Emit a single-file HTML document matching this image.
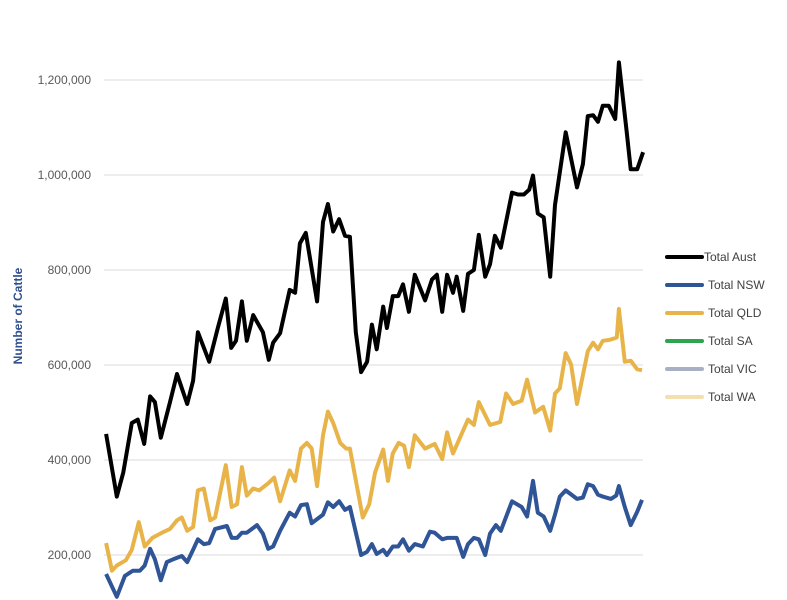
<!DOCTYPE html>
<html><head><meta charset="utf-8"><style>
html,body{margin:0;padding:0;background:#fff;}
svg{display:block;font-family:"Liberation Sans",sans-serif;}
</style></head><body>
<svg id="chart" width="787" height="600" viewBox="0 0 787 600">
<g id="grid"></g>
<g id="ylabels"></g>
<text transform="translate(22,316) rotate(-90)" text-anchor="middle" font-size="12" font-weight="bold" fill="#2f4f8f">Number of Cattle</text>
<g id="series"></g>
<g id="legend"></g>
</svg>
<script>
const yTicks = [200, 400, 600, 800, 1000, 1200];
const yTickLabels = ["200,000","400,000","600,000","800,000","1,000,000","1,200,000"];
const ausT = [0.2,2.2,3.4,5.0,6.1,7.3,8.4,9.3,10.4,12.1,13.4,15.3,16.4,17.3,19.4,21.0,22.5,23.5,24.4,25.5,26.4,27.6,29.4,30.5,31.3,32.6,34.4,35.4,36.3,37.4,39.5,40.6,41.5,42.5,43.6,44.7,45.6,46.7,47.7,48.8,49.7,50.6,51.8,52.5,53.6,54.6,55.5,56.6,57.7,59.6,60.9,61.8,62.8,63.7,64.8,65.5,66.7,67.6,68.7,69.6,70.8,71.7,72.6,73.7,75.8,76.9,78.0,79.0,79.7,80.6,81.7,82.9,83.8,85.8,87.9,89.0,89.9,90.9,91.8,92.7,93.8,95.0,95.7,97.2,97.9,99.1,100.2];
const ausV = [455,323,374,478,485,434,534,522,447,522,581,518,567,669,607,678,740,636,651,734,651,705,669,611,647,667,758,752,856,878,734,901,939,881,907,872,870,669,585,607,685,633,723,678,745,745,770,712,790,736,780,790,712,790,752,786,714,792,800,874,786,812,872,847,963,959,959,969,999,919,911,786,937,1090,974,1023,1124,1126,1112,1146,1146,1118,1237,1085,1012,1012,1048];
const qldT = [0.2,1.3,2.2,3.9,5.0,6.3,7.4,8.8,10.6,12.1,13.4,14.3,15.3,16.4,17.3,18.4,19.6,20.5,22.5,23.6,24.6,25.5,26.4,27.6,28.7,30.4,31.5,32.6,34.4,35.4,36.5,37.6,38.5,39.5,40.6,41.5,42.5,43.8,44.9,45.6,46.9,48.0,49.2,50.3,51.8,52.7,53.6,54.7,55.7,56.6,57.7,59.6,61.4,62.8,63.7,64.8,67.6,68.7,69.6,71.7,73.6,74.7,76.0,77.6,78.6,80.1,81.6,82.9,83.8,84.7,85.8,86.8,87.9,89.9,90.9,91.8,92.7,94.0,95.3,95.7,96.8,97.9,99.1,100.0];
const qldV = [225,167,178,189,211,269,218,236,247,255,273,279,251,259,336,340,273,279,389,301,307,385,325,340,336,351,363,313,378,356,424,436,424,345,452,502,478,436,424,424,345,279,307,374,422,356,414,436,430,385,452,424,434,402,458,414,485,474,522,474,480,540,518,525,569,500,512,462,540,551,625,601,518,629,647,633,651,653,658,718,607,609,591,589];
const nswT = [0.2,2.2,3.7,5.2,6.5,7.4,8.4,9.3,10.4,11.5,12.7,14.3,15.3,16.4,17.3,18.4,19.4,20.5,22.7,23.6,24.6,25.5,26.4,28.3,29.4,30.4,31.3,32.6,34.4,35.4,36.5,37.6,38.5,40.6,41.5,42.5,43.6,44.7,45.6,47.7,48.8,49.7,50.6,51.8,52.5,53.6,54.6,55.5,56.6,57.7,59.2,60.5,61.4,62.8,63.7,65.5,66.7,67.6,68.7,69.6,70.8,71.7,72.8,73.7,75.8,77.6,78.6,79.7,80.6,81.7,82.9,83.8,84.7,85.8,87.9,89.0,89.9,90.9,91.8,92.7,94.2,95.2,95.7,96.8,97.9,99.1,100.0];
const nswV = [160,112,156,167,167,178,213,191,147,185,191,198,185,211,233,223,225,255,261,236,236,247,247,263,245,213,218,251,289,281,305,307,267,285,311,301,313,295,301,200,207,223,202,211,200,218,218,233,209,223,218,249,247,233,236,236,196,223,236,233,200,245,263,251,313,301,281,356,289,281,251,285,323,336,318,321,349,345,327,323,318,325,345,301,263,291,316];
const legendNames = ["Total Aust","Total NSW","Total QLD","Total SA","Total VIC","Total WA"];
const legendColors = ["#000000","#2f5597","#e8b449","#2ea44f","#a9b0c4","#f3dfb0"];

const NS = "http://www.w3.org/2000/svg";
function xs(t){ return 105 + t * 5.37; }
function ys(v){ return 555 - (v - 200) * 0.475; }

const grid = document.getElementById('grid');
const yl = document.getElementById('ylabels');
yTicks.forEach((v,i)=>{
  const ln = document.createElementNS(NS,'line');
  
  
  ln.setAttribute('x1',104); ln.setAttribute('x2',643);
  ln.setAttribute('y1',ys(v)); ln.setAttribute('y2',ys(v));
  ln.setAttribute('stroke','#e2e2e2'); ln.setAttribute('stroke-width','1.2');
  grid.appendChild(ln);
  const tx = document.createElementNS(NS,'text');
  
  
  tx.setAttribute('x',91); tx.setAttribute('y',ys(v)+4);
  tx.setAttribute('text-anchor','end'); tx.setAttribute('font-size','12');
  tx.setAttribute('fill','#595959');
  tx.textContent = yTickLabels[i];
  yl.appendChild(tx);
});

const sg = document.getElementById('series');
function drawLine(T,V,color,name){
  const p = document.createElementNS(NS,'polyline');
  
  
  p.setAttribute('points', T.map((t,i)=>xs(t).toFixed(1)+','+ys(V[i]).toFixed(1)).join(' '));
  p.setAttribute('fill','none'); p.setAttribute('stroke',color);
  p.setAttribute('stroke-width','4'); p.setAttribute('stroke-linejoin','round');
  sg.appendChild(p);
}
drawLine(nswT,nswV,legendColors[1],'line-total-nsw');
drawLine(qldT,qldV,legendColors[2],'line-total-qld');
drawLine(ausT,ausV,legendColors[0],'line-total-aust');

const lg = document.getElementById('legend');
legendNames.forEach((n,i)=>{
  const y = 257 + i*28;
  const ln = document.createElementNS(NS,'line');
  
  
  ln.setAttribute('x1',667); ln.setAttribute('x2',702);
  ln.setAttribute('y1',y); ln.setAttribute('y2',y);
  ln.setAttribute('stroke',legendColors[i]); ln.setAttribute('stroke-width','4');
  ln.setAttribute('stroke-linecap','round');
  lg.appendChild(ln);
  const tx = document.createElementNS(NS,'text');
  
  
  tx.setAttribute('x', i===0 ? 704 : 708); tx.setAttribute('y',y+4);
  tx.setAttribute('font-size','12'); tx.setAttribute('fill','#404040');
  tx.textContent = n;
  lg.appendChild(tx);
});
</script>
</body></html>
